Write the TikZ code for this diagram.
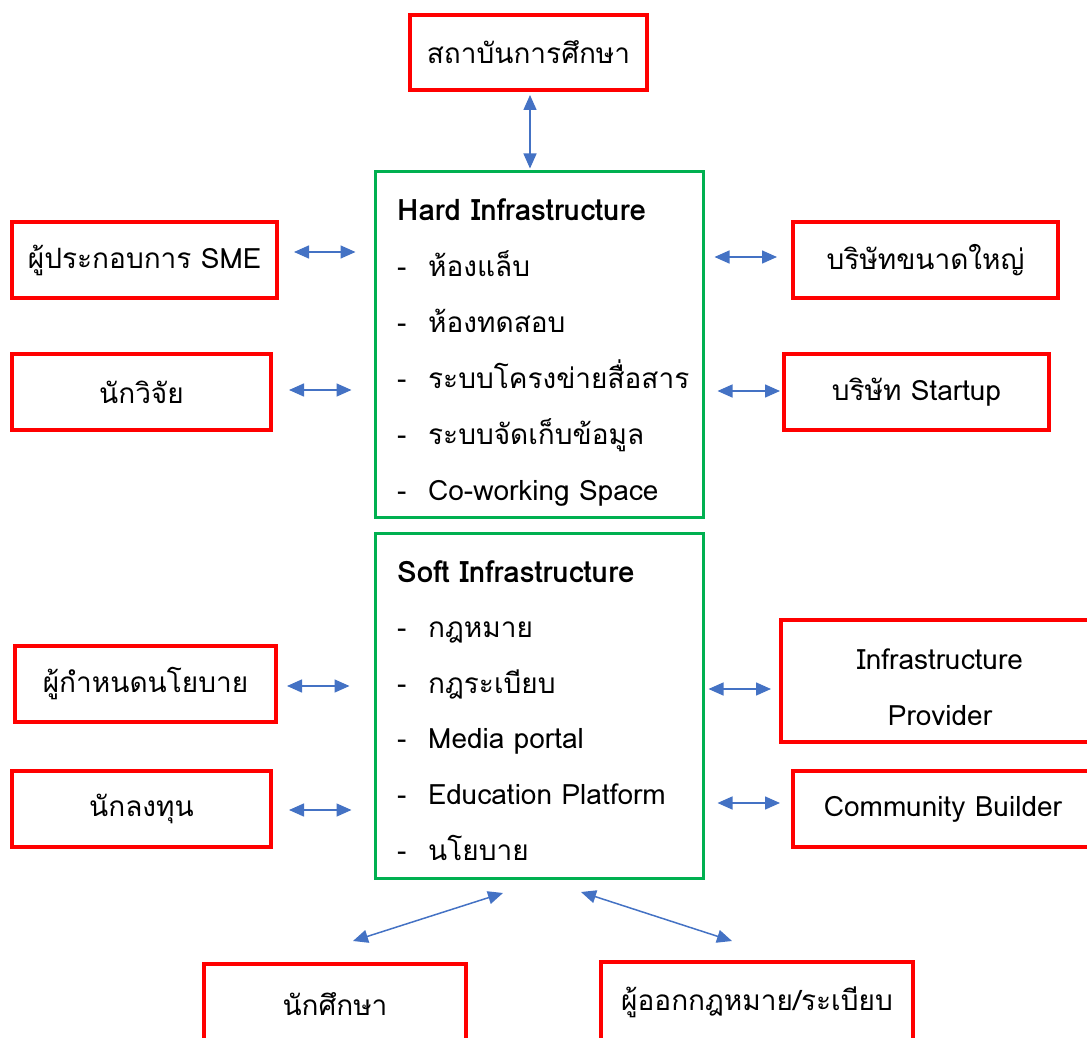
\documentclass[tikz,border=0pt]{standalone}
\usepackage{fontspec}
\setmainfont[Script=Thai]{Loma}
\usetikzlibrary{arrows.meta}
\definecolor{boxred}{RGB}{255,0,0}
\definecolor{boxgreen}{RGB}{0,176,80}
\definecolor{arrblue}{RGB}{68,114,196}
\tikzset{
  redbox/.style={draw=boxred, line width=4pt, minimum height=76pt, inner sep=0pt, align=center, font=\fontsize{28}{56}\selectfont},
  greenbox/.style={draw=boxgreen, line width=3pt, inner sep=0pt},
  bi/.style={draw=arrblue, line width=1.5pt, {Triangle[length=15pt,width=13pt]}-{Triangle[length=15pt,width=13pt]}},
  item/.style={anchor=base west, inner sep=0pt, font=\fontsize{28}{30}\selectfont},
  head/.style={item, font=\fontsize{29.5}{30}\selectfont\bfseries},
}
\begin{document}
\begin{tikzpicture}[x=1pt,y=-1pt]
\useasboundingbox (0,0) rectangle (1087,1038);
\clip (0,0) rectangle (1087,1038);
% central boxes
\node[greenbox, minimum width=328pt, minimum height=346pt] (hard) at (539,344) {};
\node[greenbox, minimum width=328pt, minimum height=345pt] (soft) at (539,705.5) {};
% hard items
\node[head] (h0) at (397,220) {Hard Infrastructure};
\foreach \t [count=\i] in {ห้องแล็บ, ห้องทดสอบ, ระบบโครงข่ายสื่อสาร, ระบบจัดเก็บข้อมูล, Co-working Space} {
  \node[item] (hd\i) at (397,220+56*\i) {-};
  \node[item] (ht\i) at (428,220+56*\i) {\t};
}
\node[head] (s0) at (397,582) {Soft Infrastructure};
\foreach \t [count=\i] in {กฎหมาย, กฎระเบียบ, Media portal, Education Platform, นโยบาย} {
  \node[item] (sd\i) at (397,582+55.6*\i) {-};
  \node[item] (st\i) at (428,582+55.6*\i) {\t};
}
% surrounding boxes
\node[redbox, minimum width=237pt, minimum height=75pt] (top) at (528.5,52.5) {สถาบันการศึกษา};
\node[redbox, minimum width=265pt] (sme) at (144.5,260) {ผู้ประกอบการ SME};
\node[redbox, minimum width=259pt] (res) at (141.5,392) {นักวิจัย};
\node[redbox, minimum width=261pt] (pol) at (145.5,684) {ผู้กำหนดนโยบาย};
\node[redbox, minimum width=259pt] (inv) at (141.5,809) {นักลงทุน};
\node[redbox, minimum width=265pt] (big) at (925.5,260) {บริษัทขนาดใหญ่};
\node[redbox, minimum width=265pt] (sta) at (916.5,392) {บริษัท Startup};
\node[redbox, minimum width=318pt, minimum height=122pt] (ip) at (940,681) {};
\node[align=center, inner sep=0pt, font=\fontsize{28}{56}\selectfont] (ipt) at ([yshift=-6pt]ip.center) {Infrastructure\\Provider};
\node[redbox, minimum width=300pt] (cb) at (943,809) {Community Builder};
\node[redbox, minimum width=262pt, minimum height=80pt] (stu) at (335,1004) {นักศึกษา};
\node[redbox, minimum width=312pt, minimum height=80pt] (law) at (757,1002) {ผู้ออกกฎหมาย/ระเบียบ};
% connectors
\draw[bi, shorten <=3pt, shorten >=1pt] ([xshift=1.5pt]top.south) -- ([xshift=1.5pt]top.south |- hard.north);
\draw[bi, shorten <=15pt, shorten >=18pt] ([yshift=8pt]sme.east) -- ([yshift=8pt]sme.east -| hard.west);
\draw[bi, shorten <=16pt, shorten >=22pt] ([yshift=2pt]res.east) -- ([yshift=2pt]res.east -| hard.west);
\draw[bi, shorten <=9pt, shorten >=24pt] ([yshift=-2pt]pol.east) -- ([yshift=-2pt]pol.east -| soft.west);
\draw[bi, shorten <=16pt, shorten >=22pt] ([yshift=-1pt]inv.east) -- ([yshift=-1pt]inv.east -| soft.west);
\draw[bi, shorten <=10pt, shorten >=14pt] ([yshift=3pt]hard.east |- big.east) -- ([yshift=3pt]big.west);
\draw[bi, shorten <=13pt, shorten >=2pt] ([yshift=1pt]hard.east |- sta.east) -- ([yshift=1pt]sta.west);
\draw[bi, shorten <=4pt, shorten >=8pt] ([yshift=-8pt]soft.east |- ip.east) -- ([yshift=-8pt]ip.west);
\draw[bi, shorten <=13pt, shorten >=11pt] ([yshift=6pt]soft.east |- cb.east) -- ([yshift=6pt]cb.west);
\coordinate (bl) at (353,941);
\coordinate (blt) at (503,893);
\coordinate (br) at (732,941);
\coordinate (brt) at (581,892);
\draw[bi] (bl) -- (blt);
\draw[bi] (brt) -- (br);
\end{tikzpicture}
\end{document}
